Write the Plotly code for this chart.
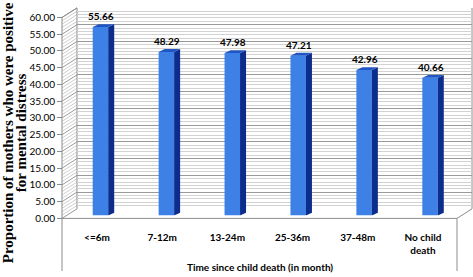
import plotly.graph_objects as go

categories = ["<=6m", "7-12m", "13-24m", "25-36m", "37-48m", "No child<br>death"]
values = [55.66, 48.29, 47.98, 47.21, 42.96, 40.66]
y_ticks = [0, 5, 10, 15, 20, 25, 30, 35, 40, 45, 50, 55, 60]
y_title_lines = ["Proportion of mothers who were positive", "for mental distress"]
x_title = "Time since child death (in month)"

W, H = 473, 277


def px(x):
    return x / W


def py(y):
    return 1 - y / H


FRONT = "#3d80e6"
SIDE = "#0c2d8c"
TOP = "#1f56c4"
SANS = "Lato, 'Open Sans', sans-serif"

fig = go.Figure()

fig.add_trace(go.Scatter(x=[0], y=[0], mode="markers", marker=dict(opacity=0),
                         hoverinfo="skip", showlegend=False, xaxis="x", yaxis="y"))
idx = list(range(len(values)))
BW = 0.235
fig.add_trace(go.Bar(x=idx, y=values, width=BW, marker=dict(color=FRONT, line=dict(width=0)),
                     showlegend=False, xaxis="x2", yaxis="y2", hoverinfo="skip"))
fig.add_trace(go.Scatter(x=[0], y=[0], mode="markers", marker=dict(opacity=0),
                         hoverinfo="skip", showlegend=False, xaxis="x3", yaxis="y3"))

shapes = []
dx = 6 / 65.9
dy = 3 / 3.54
for i, v in enumerate(values):
    xl = i - BW / 2
    xr = i + BW / 2
    shapes.append(dict(type="path", xref="x2", yref="y2", layer="above",
                       path=f"M{xr},0 L{xr},{v} L{xr+dx},{v+dy} L{xr+dx},{dy} Z",
                       fillcolor=SIDE, line=dict(width=0)))
    shapes.append(dict(type="path", xref="x2", yref="y2", layer="above",
                       path=f"M{xl},{v} L{xr},{v} L{xr+dx},{v+dy} L{xl+dx},{v+dy} Z",
                       fillcolor=TOP, line=dict(width=0)))

for v in range(0, 61):
    y0 = 222 - 3.5 * v
    y1 = 212 - 3.5 * v
    col = "#9a9a9a" if v % 5 == 0 else "#cfcfcf"
    shapes.append(dict(type="line", xref="paper", yref="paper", layer="below",
                       x0=px(62), y0=py(y0), x1=px(77), y1=py(y1),
                       line=dict(color=col, width=1)))

frame = "#8c8c8c"
for (x0, y0, x1, y1) in [(62, 12, 62, 277), (62, 222, 457, 222), (457, 222, 472, 212),
                         (457, 222, 457, 277), (472, 2, 472, 212), (77, 2, 77, 212),
                         (62, 12, 77, 2)]:
    shapes.append(dict(type="line", xref="paper", yref="paper", layer="below",
                       x0=px(x0), y0=py(y0), x1=px(x1), y1=py(y1),
                       line=dict(color=frame, width=1)))

annotations = []
for i, v in enumerate(values):
    annotations.append(dict(x=i, y=v, xref="x2", yref="y2", text=f"<b>{v:.2f}</b>",
                            showarrow=False, yanchor="bottom", yshift=3, xshift=1,
                            font=dict(family=SANS, size=10, color="black")))
for line_text, xc in zip(y_title_lines, [8, 21]):
    annotations.append(dict(x=px(xc), y=py(133), xref="paper", yref="paper",
                            text=f"<b>{line_text}</b>", textangle=-90, showarrow=False,
                            xanchor="center", yanchor="middle",
                            font=dict(family="Liberation Serif, serif", size=15, color="black")))
annotations.append(dict(x=px(260), y=py(273), xref="paper", yref="paper",
                        text=f"<b>{x_title}</b>", showarrow=False,
                        xanchor="center", yanchor="middle",
                        font=dict(family=SANS, size=10, color="black")))

fig.update_layout(
    width=W, height=H,
    margin=dict(l=0, r=0, t=0, b=0),
    paper_bgcolor="white", plot_bgcolor="rgba(0,0,0,0)",
    showlegend=False,
    shapes=shapes, annotations=annotations,
    xaxis=dict(domain=[px(77), px(472)], range=[0, 1], visible=False, anchor="y"),
    yaxis=dict(domain=[py(212), py(2)], range=[0, 60], anchor="x",
               showgrid=True, gridcolor="#9a9a9a", gridwidth=1, dtick=5, tick0=0,
               minor=dict(dtick=1, showgrid=True, gridcolor="#d2d2d2", gridwidth=1),
               showticklabels=False, ticks="", zeroline=False, showline=False),
    xaxis2=dict(domain=[px(67.5), px(463)], range=[-0.5, 5.5], visible=False, anchor="y2"),
    yaxis2=dict(domain=[py(219), py(6.6)], range=[0, 60], visible=False, anchor="x2"),
    xaxis3=dict(domain=[px(64.4), px(455.6)], range=[-0.5, 5.5], anchor="y3",
                tickmode="array", tickvals=idx, ticktext=[f"<b>{c}</b>" for c in categories],
                ticks="", showline=False, showgrid=False, zeroline=False,
                ticklabelstandoff=12,
                tickfont=dict(family=SANS, size=10, color="black")),
    yaxis3=dict(domain=[py(222), py(12)], range=[0, 60], anchor="free", position=px(62),
                tickmode="array", tickvals=y_ticks, tickformat=".2f",
                ticks="outside", ticklen=5, tickcolor=frame,
                showline=False, showgrid=False, zeroline=False,
                tickfont=dict(family=SANS, size=10, color="black")),
)

fig.write_html("out.html", config={"displayModeBar": False},
               post_script="document.body.style.margin='0';document.body.style.overflow='hidden';")
